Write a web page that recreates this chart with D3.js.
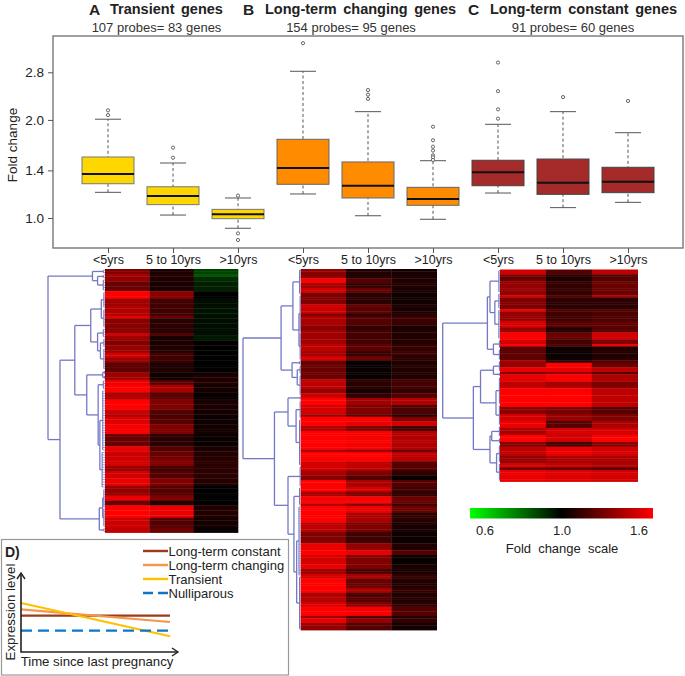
<!DOCTYPE html>
<html>
<head>
<meta charset="utf-8">
<script src="https://cdn.jsdelivr.net/npm/d3@7"></script>
<style>
body { margin: 0; background: #fff; }
text { font-family: "Liberation Sans", Arial, sans-serif; fill: #222; }
</style>
</head>
<body>
<div id="chart"></div>
<script>
// boxplot values (fold change)
var periods = ["<5yrs", "5 to 10yrs", ">10yrs"];
var boxGroup = [0, 0, 0, 1, 1, 1, 2, 2, 2];
var boxColors = ["#ffd700", "#ff8c00", "#a52a2a"];
var boxStroke = ["#777", "#666", "#444"];
var q1 = [1.274, 1.099, 0.995, 1.269, 1.152, 1.094, 1.256, 1.182, 1.196];
var medians = [1.365, 1.168, 1.026, 1.424, 1.256, 1.143, 1.381, 1.283, 1.293];
var q3 = [1.539, 1.247, 1.063, 1.744, 1.486, 1.242, 1.504, 1.517, 1.431];
var whiskLow = [1.199, 1.021, 0.930, 1.185, 1.016, 0.991, 1.193, 1.076, 1.117];
var whiskHigh = [2.01, 1.475, 1.152, 2.82, 2.12, 1.499, 1.939, 2.12, 1.827];
var outliers = [
    [2.14, 2.07],
    [1.644, 1.531],
    [1.171, 0.897, 0.856],
    [3.44],
    [2.47, 2.39, 2.32],
    [1.906, 1.732, 1.655, 1.61, 1.557, 1.536, 1.507],
    [3.0, 2.45, 2.155, 2.018],
    [2.35],
    [2.286]
];
var yTicks = [1.0, 1.4, 2.0, 2.8];

// heatmap A : stripes of rows, values per time column
var rowsA = [2,1,2,4,3,3,4,1,6,1,2,2,3,2,2,4,3,2,3,3,4,2,1,3,4,5,2,3,3,2,3,3,4,2,2,5,4,2];
var a1 = [1.30,1.40,1.35,1.25,1.60,1.38,1.42,1.55,1.32,1.50,1.38,1.30,1.36,1.50,1.36,1.22,1.38,1.55,1.60,1.42,1.60,1.48,1.40,1.52,1.58,1.25,1.55,1.48,1.50,1.35,1.50,1.55,1.35,1.55,1.25,1.60,1.48,1.45];
var a2 = [1.06,1.10,1.07,1.06,1.32,1.16,1.15,1.25,1.10,1.20,1.06,1.06,1.08,1.16,1.14,1.07,1.04,1.20,1.40,1.22,1.30,1.20,1.16,1.20,1.30,1.10,1.20,1.25,1.30,1.15,1.20,1.30,1.20,1.30,1.08,1.55,1.20,1.25];
var a3 = [0.90,0.86,0.93,0.95,1.00,0.98,0.97,0.98,0.98,0.98,0.96,1.01,1.00,1.00,1.00,1.00,1.06,1.08,1.05,1.02,1.06,1.05,1.03,1.03,1.05,1.02,1.06,1.08,1.10,1.10,1.10,1.08,1.00,1.00,1.00,1.08,1.05,1.02];

// heatmap B
var rowsB = [1,3,2,2,2,5,4,1,4,2,6,3,2,2,8,4,2,2,3,4,1,2,2,2,8,1,4,4,2,2,3,2,2,3,1,3,4,4,5,3,2,4,2,2,2,4,2,4,2,4,1,2,3];
var b1 = [1.35,1.32,1.60,1.38,1.50,1.30,1.48,1.30,1.40,1.32,1.38,1.45,1.38,1.50,1.25,1.45,1.35,1.48,1.60,1.50,1.35,1.60,1.60,1.40,1.60,1.40,1.60,1.50,1.40,1.32,1.60,1.60,1.40,1.60,1.40,1.60,1.60,1.45,1.30,1.55,1.60,1.50,1.55,1.35,1.50,1.60,1.60,1.42,1.50,1.60,1.38,1.55,1.35];
var b2 = [1.07,1.08,1.20,1.12,1.25,1.10,1.22,1.10,1.20,1.12,1.16,1.22,1.12,1.25,1.02,1.10,1.06,1.12,1.38,1.30,1.20,1.60,1.55,1.28,1.58,1.35,1.60,1.45,1.30,1.20,1.40,1.50,1.30,1.60,1.30,1.55,1.40,1.30,1.15,1.35,1.55,1.30,1.30,1.15,1.40,1.25,1.40,1.20,1.30,1.58,1.18,1.35,1.20];
var b3 = [1.05,1.06,1.08,1.08,1.06,1.04,1.06,1.10,1.14,1.06,1.08,1.12,1.14,1.10,1.08,1.16,1.12,1.20,1.42,1.18,1.10,1.30,1.50,1.14,1.42,1.25,1.45,1.20,1.12,1.02,1.20,1.15,1.12,1.25,1.15,1.25,1.10,1.06,1.03,1.08,1.20,1.02,1.06,1.05,1.12,1.08,1.12,1.08,1.10,1.20,1.08,1.12,1.05];

// heatmap C
var rowsC = [2,1,2,6,1,5,1,4,3,2,3,2,1,6,1,2,2,1,3,3,8,3,3,3,3,3,2,4,3,2,1,5];
var c1 = [1.50,1.30,1.25,1.35,1.50,1.30,1.55,1.35,1.50,1.35,1.60,1.50,1.60,1.22,1.40,1.35,1.55,1.30,1.55,1.45,1.60,1.32,1.50,1.55,1.40,1.60,1.30,1.45,1.35,1.50,1.22,1.55];
var c2 = [1.20,1.10,1.08,1.12,1.20,1.10,1.20,1.15,1.20,1.08,1.25,1.15,1.20,1.03,1.10,1.60,1.55,1.35,1.60,1.40,1.60,1.28,1.35,1.20,1.50,1.50,1.15,1.55,1.40,1.45,1.22,1.52];
var c3 = [1.45,1.22,1.20,1.25,1.40,1.10,1.20,1.18,1.22,1.20,1.50,1.30,1.55,1.08,1.20,1.25,1.45,1.20,1.42,1.30,1.45,1.20,1.30,1.40,1.50,1.60,1.30,1.50,1.40,1.42,1.18,1.50];

// dendrograms: [height, child, child] or a leaf comb [height, firstRow, lastRow]
var treeA = [1,
    [.22, [.03,0,1], [.13, [.03,2,3], [.03,4,8]]],
    [.79,
        [.53,
            [.25,
                [.065, [.02,9,15], [.02,16,23]],
                [.13, [.03,24,27], [.08, [.02,28,31], [.02,32,40]]]],
            [.32,
                [.04, [.01,41,42], [.01,43,44]],
                [.12, [.03,45,48], [.09, [.04,49,73], [.05,74,88]]]]],
        [.1, [.04, [.02,89,96], [.02,97,104]], [.02,105,106]]]];
var treeB = [1,
    [.34,
        [.135, [.02,0,10], [.03, [.01,11,26], [.01,27,38]]],
        [.15, [.02,39,40], [.06, [.01,41,44], [.01,45,53]]]],
    [.455,
        [.22, [.01,54,55], [.08, [.01,56,63], [.02,64,83]]],
        [.22, [.01,84,92],
            [.117, [.02,93,100], [.07, [.03,101,130], [.02,131,153]]]]]];
var treeC = [1,
    [.22,
        [.175, [.02,0,9], [.09, [.02,10,16], [.02,17,29]]],
        [.115, [.01,30,33], [.01,34,38]]],
    [.465,
        [.34,
            [.115, [.01,39,43], [.01,44,45]],
            [.07, [.01,46,57], [.01,58,66]]],
        [.175,
            [.145, [.01,67,71], [.01,72,74]],
            [.06, [.01,75,82], [.01,83,90]]]]];

// panel D
var constantLine = [.46, .46];
var changingLine = [.54, .38];
var transientLine = [.62, .20];
var nulliLine = [.27, .27];
var legendNames = ["Long-term constant", "Long-term changing", "Transient", "Nulliparous"];
var legendColors = ["#9a3b1b", "#f79646", "#ffc000", "#0f75c9"];

var width = 685, height = 676;
var svg = d3.select("#chart").append("svg")
    .attr("width", width)
    .attr("height", height)
    .style("display", "block");

// titles
function title(letter, lx, name, nx, sub, sx) {
    svg.append("text").attr("x", lx).attr("y", 14.5).style("font-size", "15.5px").style("font-weight", "bold").text(letter);
    svg.append("text").attr("x", nx).attr("y", 13.5).style("font-size", "14.5px").style("font-weight", "bold").style("word-spacing", "2.5px").text(name);
    svg.append("text").attr("x", sx).attr("y", 32).attr("text-anchor", "middle").style("font-size", "13px").style("fill", "#333").text(sub);
}
title("A", 89, "Transient genes", 110, "107 probes= 83 genes", 156.5);
title("B", 243, "Long-term changing genes", 265, "154 probes= 95 genes", 351);
title("C", 468, "Long-term constant genes", 490, "91 probes= 60 genes", 573);

// box plots
var frameX0 = 53, frameX1 = 683, frameY0 = 36, frameY1 = 248;
var x = d3.scalePoint().domain(d3.range(9)).range([108, 628]);
var y = d3.scaleLog().domain([1, 2.8]).range([218, 72.3]);
var boxW = 52, capW = 26;

svg.append("rect")
    .attr("x", frameX0).attr("y", frameY0)
    .attr("width", frameX1 - frameX0).attr("height", frameY1 - frameY0)
    .attr("fill", "none").attr("stroke", "#777").attr("stroke-width", 1.4);

var yAxis = svg.append("g").attr("transform", "translate(" + frameX0 + ",0)")
    .call(d3.axisLeft(y).tickValues(yTicks).tickFormat(d3.format(".1f")).tickSize(5).tickPadding(4));
yAxis.select(".domain").remove();
yAxis.selectAll("line").attr("stroke", "#555");
yAxis.selectAll("text").style("font-size", "13.5px");

var xAxis = svg.append("g").attr("transform", "translate(0," + frameY1 + ")")
    .call(d3.axisBottom(x).tickFormat(function(i) { return periods[i % 3]; }).tickSize(5).tickPadding(2.5));
xAxis.select(".domain").remove();
xAxis.selectAll("line").attr("stroke", "#555");
xAxis.selectAll("text").style("font-size", "12.5px");

svg.append("text")
    .attr("transform", "translate(17,145) rotate(-90)")
    .attr("text-anchor", "middle")
    .style("font-size", "13.5px")
    .text("Fold change");

var boxes = svg.selectAll(".box").data(d3.range(9)).enter().append("g").attr("class", "box");

boxes.append("line")
    .attr("x1", x).attr("x2", x)
    .attr("y1", function(i) { return y(whiskLow[i]); })
    .attr("y2", function(i) { return y(whiskHigh[i]); })
    .attr("stroke", "#555")
    .attr("stroke-dasharray", "3,2.5");

[whiskLow, whiskHigh].forEach(function(w) {
    boxes.append("line")
        .attr("x1", function(i) { return x(i) - capW / 2; })
        .attr("x2", function(i) { return x(i) + capW / 2; })
        .attr("y1", function(i) { return y(w[i]); })
        .attr("y2", function(i) { return y(w[i]); })
        .attr("stroke", "#555");
});

boxes.append("rect")
    .attr("x", function(i) { return x(i) - boxW / 2; })
    .attr("y", function(i) { return y(q3[i]); })
    .attr("width", boxW)
    .attr("height", function(i) { return y(q1[i]) - y(q3[i]); })
    .attr("fill", function(i) { return boxColors[boxGroup[i]]; })
    .attr("stroke", function(i) { return boxStroke[boxGroup[i]]; });

boxes.append("line")
    .attr("x1", function(i) { return x(i) - boxW / 2; })
    .attr("x2", function(i) { return x(i) + boxW / 2; })
    .attr("y1", function(i) { return y(medians[i]); })
    .attr("y2", function(i) { return y(medians[i]); })
    .attr("stroke", "#111")
    .attr("stroke-width", 2);

boxes.selectAll("circle")
    .data(function(i) { return outliers[i].map(function(v) { return {i: i, v: v}; }); })
    .enter().append("circle")
    .attr("cx", function(d) { return x(d.i); })
    .attr("cy", function(d) { return y(d.v); })
    .attr("r", 1.6)
    .attr("fill", "#fff")
    .attr("stroke", "#666");

// heatmaps
var foldColor = d3.scaleLinear()
    .domain([0.6, 1, 1.6])
    .range(["#00ff00", "#000000", "#ff0000"])
    .clamp(true);

function drawHeatmap(counts, columns, xRange, yRange, tree, rootX) {
    var rowValues = [];
    counts.forEach(function(n, s) {
        d3.range(n).forEach(function() {
            rowValues.push(columns.map(function(c) { return c[s]; }));
        });
    });
    var col = d3.scaleBand().domain(d3.range(3)).range(xRange);
    var row = d3.scaleBand().domain(d3.range(rowValues.length)).range(yRange);
    var g = svg.append("g");

    g.selectAll("g").data(rowValues).enter().append("g")
        .selectAll("rect")
        .data(function(d, r) { return d.map(function(v, c) { return {r: r, c: c, v: v}; }); })
        .enter().append("rect")
        .attr("x", function(d) { return col(d.c); })
        .attr("y", function(d) { return row(d.r); })
        .attr("width", col.bandwidth() + 0.3)
        .attr("height", row.bandwidth() + 0.4)
        .attr("fill", function(d) { return foldColor(d.v); });

    // dendrogram left of the rows
    var h = d3.scaleLinear().domain([0, 1]).range([xRange[0], rootX]);
    var rowY = function(r) { return row(r) + row.bandwidth() / 2; };
    var blue = "#7478c4";
    function seg(x1, y1, x2, y2, w) {
        g.append("line").attr("x1", x1).attr("y1", y1).attr("x2", x2).attr("y2", y2)
            .attr("stroke", blue).attr("stroke-width", w);
    }
    function walk(n) {
        var px = h(n[0]);
        if (!Array.isArray(n[1])) {
            d3.range(n[1], n[2] + 1).forEach(function(r) {
                seg(px, rowY(r), h(0), rowY(r), 0.7);
            });
            seg(px, rowY(n[1]), px, rowY(n[2]), 1.1);
            return (rowY(n[1]) + rowY(n[2])) / 2;
        }
        var y1 = walk(n[1]), y2 = walk(n[2]);
        [[n[1], y1], [n[2], y2]].forEach(function(c) {
            seg(px, c[1], h(c[0][0]), c[1], 1.3);
        });
        seg(px, y1, px, y2, 1.3);
        return (y1 + y2) / 2;
    }
    walk(tree);
}
drawHeatmap(rowsA, [a1, a2, a3], [105, 238], [269, 532.5], treeA, 48);
drawHeatmap(rowsB, [b1, b2, b3], [300.7, 436.7], [269, 630], treeB, 243);
drawHeatmap(rowsC, [c1, c2, c3], [500, 637.7], [269.5, 481.5], treeC, 442.7);

// fold change colour bar
var grad = svg.append("defs").append("linearGradient").attr("id", "foldGrad");
grad.selectAll("stop").data(["#00ff00", "#000000", "#ff0000"]).enter().append("stop")
    .attr("offset", function(d, i) { return i * 50 + "%"; })
    .attr("stop-color", function(d) { return d; });
svg.append("rect").attr("x", 470).attr("y", 508).attr("width", 183).attr("height", 10.5).attr("fill", "url(#foldGrad)");
var scaleTicks = d3.scaleLog().domain([0.6, 1, 1.6]).range([485, 562, 639]);
svg.selectAll(".scaleTick").data([0.6, 1.0, 1.6]).enter().append("text")
    .attr("class", "scaleTick")
    .attr("x", scaleTicks)
    .attr("y", 535)
    .attr("text-anchor", "middle")
    .style("font-size", "13px")
    .text(d3.format(".1f"));
svg.append("text").attr("x", 562).attr("y", 553).attr("text-anchor", "middle")
    .style("font-size", "13px").style("word-spacing", "3.5px").text("Fold change scale");

// panel D
svg.append("rect").attr("x", 1.5).attr("y", 539.5).attr("width", 287).attr("height", 135.5)
    .attr("fill", "#fff").attr("stroke", "#999").attr("stroke-width", 1.2);
svg.append("text").attr("x", 5).attr("y", 557).style("font-size", "14px").style("font-weight", "bold").text("D)");

var tx = d3.scaleLinear().domain([0, 1]).range([21, 170]);
var ty = d3.scaleLinear().domain([0, 1]).range([652, 573]);
var ln = d3.line().x(function(d, i) { return tx(i); }).y(function(d) { return ty(d); });
[constantLine, changingLine, transientLine, nulliLine].forEach(function(s, k) {
    svg.append("path").attr("d", ln(s)).attr("fill", "none")
        .attr("stroke", legendColors[k]).attr("stroke-width", 2.2)
        .attr("stroke-dasharray", k === 3 ? "11,6" : null);
});
// axes with arrow heads
var arrow = "#222";
svg.append("path").attr("d", "M21,574V652H177").attr("fill", "none").attr("stroke", arrow).attr("stroke-width", 1.6);
svg.append("path").attr("d", "M17,579L21,573L25,579").attr("fill", "none").attr("stroke", arrow).attr("stroke-width", 1.4);
svg.append("path").attr("d", "M172,648L178,652L172,656").attr("fill", "none").attr("stroke", arrow).attr("stroke-width", 1.4);

var legendY = d3.scalePoint().domain(legendNames).range([551, 593]);
legendNames.forEach(function(n, k) {
    svg.append("line").attr("x1", 143).attr("x2", 168).attr("y1", legendY(n)).attr("y2", legendY(n))
        .attr("stroke", legendColors[k]).attr("stroke-width", 2.4)
        .attr("stroke-dasharray", k === 3 ? "10,5" : null);
    svg.append("text").attr("x", 168.5).attr("y", legendY(n) + 5).style("font-size", "13px").text(n);
});
svg.append("text").attr("transform", "translate(15,612) rotate(-90)").attr("text-anchor", "middle")
    .style("font-size", "13.3px").text("Expression level");
svg.append("text").attr("x", 97).attr("y", 666).attr("text-anchor", "middle")
    .style("font-size", "13.2px").text("Time since last pregnancy");
</script>
</body>
</html>
